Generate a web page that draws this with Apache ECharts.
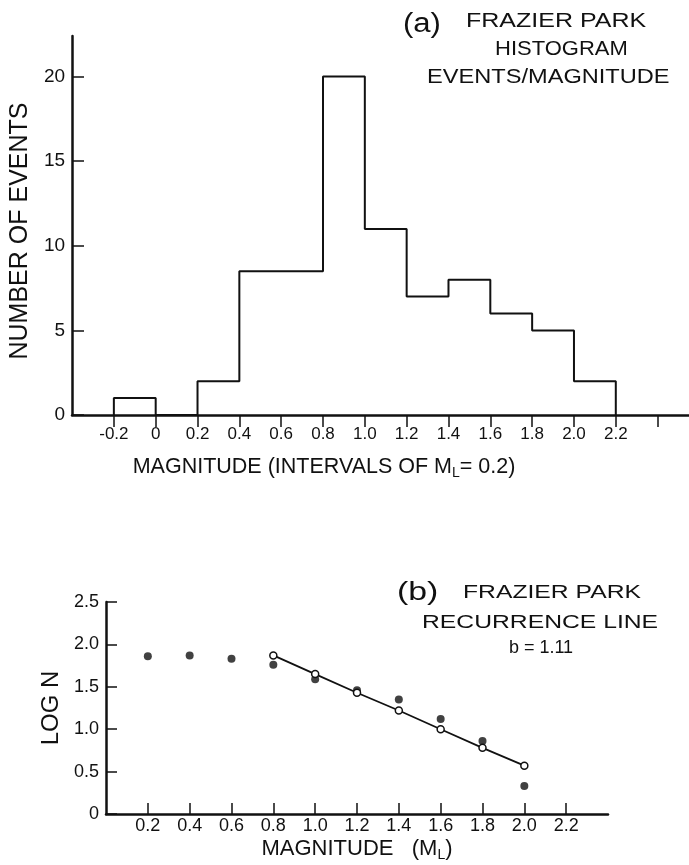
<!DOCTYPE html>
<html>
<head>
<meta charset="utf-8">
<script src="https://cdn.jsdelivr.net/npm/echarts@6/dist/echarts.min.js"></script>
<style>
html,body{margin:0;padding:0;background:#fff;}
#chart{width:689px;height:865px;}
</style>
</head>
<body>
<div id="chart"></div>
<script>
// ---- Data (a) histogram ----
const binEdges = [-0.2, 0, 0.2, 0.4, 0.6, 0.8, 1.0, 1.2, 1.4, 1.6, 1.8, 2.0, 2.2];
const eventCounts = [1, 0, 2, 8.5, 8.5, 20, 11, 7, 8, 6, 5, 2];
const histXTicks = [-0.2, 0, 0.2, 0.4, 0.6, 0.8, 1.0, 1.2, 1.4, 1.6, 1.8, 2.0, 2.2, 2.4];
const histXLabels = [-0.2, 0, 0.2, 0.4, 0.6, 0.8, 1.0, 1.2, 1.4, 1.6, 1.8, 2.0, 2.2];
const histYTicks = [0, 5, 10, 15, 20];

// ---- Data (b) recurrence ----
const magnitudes = [0.2, 0.4, 0.6, 0.8, 1.0, 1.2, 1.4, 1.6, 1.8, 2.0];
const logNObserved = [1.86, 1.87, 1.83, 1.76, 1.59, 1.46, 1.35, 1.12, 0.86, 0.33];
const fitMagnitudes = [0.8, 1.0, 1.2, 1.4, 1.6, 1.8, 2.0];
const logNFit = [1.87, 1.65, 1.43, 1.22, 1.00, 0.78, 0.57];
const recXTicks = [0.2, 0.4, 0.6, 0.8, 1.0, 1.2, 1.4, 1.6, 1.8, 2.0, 2.2];
const recYTicks = [0, 0.5, 1.0, 1.5, 2.0, 2.5];

// step outline built from bins
const histLine = [[binEdges[0], 0]];
eventCounts.forEach((c, i) => histLine.push([binEdges[i], c]));
histLine.push([binEdges[binEdges.length - 1], 0]);

const FONT = '"Liberation Sans", Arial, sans-serif';
const INK = '#111';
const fmt1 = v => (Math.abs(v) < 1e-9 ? '0' : v.toFixed(1));

const chart = echarts.init(document.getElementById('chart'), null, {renderer: 'canvas'});
chart.setOption({
  backgroundColor: '#fff',
  animation: false,
  textStyle: {fontFamily: FONT, color: INK},
  grid: [
    {left: 69, right: 0, top: 36, bottom: 450},
    {left: 106, right: 81, top: 602, bottom: 51}
  ],
  xAxis: [
    {
      gridIndex: 0, type: 'value', min: -0.4, max: 2.55,
      splitLine: {show: false},
      axisLine: {show: true, onZero: false, lineStyle: {color: INK, width: 2.5}},
      axisTick: {show: true, inside: false, length: 12, customValues: histXTicks, lineStyle: {color: INK, width: 1.5}},
      axisLabel: {customValues: histXLabels, formatter: fmt1, fontSize: 17, color: INK, margin: 11, fontFamily: FONT},
      name: '{a|MAGNITUDE (INTERVALS OF M}{s|L}{a|= 0.2)}',
      nameLocation: 'middle', nameGap: 40,
      nameTextStyle: {
        padding: [0, 113, 0, 0],
        rich: {
          a: {fontSize: 21.5, color: INK, fontFamily: FONT, lineHeight: 24},
          s: {fontSize: 14, color: INK, fontFamily: FONT, lineHeight: 24, padding: [12, 0, 0, 0]}
        }
      }
    },
    {
      gridIndex: 1, type: 'value', min: 0, max: 2.4,
      splitLine: {show: false},
      axisLine: {show: true, onZero: false, lineStyle: {color: INK, width: 2.5}},
      axisTick: {show: true, inside: true, length: 11, customValues: recXTicks, lineStyle: {color: INK, width: 1.5}},
      axisLabel: {customValues: recXTicks, formatter: fmt1, fontSize: 18, color: INK, margin: 3, fontFamily: FONT},
      name: '{a|MAGNITUDE   (M}{s|L}{a|)}',
      nameLocation: 'middle', nameGap: 22,
      nameTextStyle: {
        rich: {
          a: {fontSize: 22, color: INK, fontFamily: FONT, lineHeight: 24},
          s: {fontSize: 14, color: INK, fontFamily: FONT, lineHeight: 24, padding: [12, 0, 0, 0]}
        }
      }
    }
  ],
  yAxis: [
    {
      gridIndex: 0, type: 'value', min: 0, max: 22.4,
      splitLine: {show: false},
      axisLine: {show: true, onZero: false, lineStyle: {color: INK, width: 2.5}},
      axisTick: {show: true, inside: true, length: 12, customValues: histYTicks, lineStyle: {color: INK, width: 1.5}},
      axisLabel: {customValues: histYTicks, fontSize: 19, color: INK, margin: 7, fontFamily: FONT},
      name: 'NUMBER OF EVENTS',
      nameLocation: 'middle', nameGap: 36,
      nameTextStyle: {fontSize: 25, color: INK, fontFamily: FONT, padding: [0, 11, 0, 0]}
    },
    {
      gridIndex: 1, type: 'value', min: 0, max: 2.5,
      splitLine: {show: false},
      axisLine: {show: true, onZero: false, lineStyle: {color: INK, width: 2.5}},
      axisTick: {show: true, inside: true, length: 11, customValues: recYTicks, lineStyle: {color: INK, width: 1.5}},
      axisLabel: {customValues: recYTicks, formatter: fmt1, fontSize: 18, color: INK, margin: 7, fontFamily: FONT},
      name: 'LOG N',
      nameLocation: 'middle', nameGap: 42,
      nameTextStyle: {fontSize: 24, color: INK, fontFamily: FONT}
    }
  ],
  series: [
    {
      name: 'Events', type: 'line', xAxisIndex: 0, yAxisIndex: 0,
      step: 'end', symbol: 'none', data: histLine,
      lineStyle: {color: INK, width: 2}, z: 3
    },
    {
      name: 'Observed', type: 'scatter', xAxisIndex: 1, yAxisIndex: 1,
      symbol: 'circle', symbolSize: 8,
      data: magnitudes.map((m, i) => [m, logNObserved[i]]),
      itemStyle: {color: INK}, z: 3
    },
    {
      name: 'Recurrence line', type: 'line', xAxisIndex: 1, yAxisIndex: 1,
      symbol: 'circle', symbolSize: 7, showAllSymbol: true,
      data: fitMagnitudes.map((m, i) => [m, logNFit[i]]),
      lineStyle: {color: INK, width: 1.8},
      itemStyle: {color: '#fff', borderColor: INK, borderWidth: 1.5}, z: 4
    }
  ],
  graphic: [
    {type: 'text', x: 403, y: 25, scaleX: 1.15, style: {text: '(a)', font: '27px ' + FONT, fill: INK, textAlign: 'left', textVerticalAlign: 'middle'}},
    {type: 'text', x: 466, y: 21, scaleX: 1.25, style: {text: 'FRAZIER PARK', font: '20px ' + FONT, fill: INK, textAlign: 'left', textVerticalAlign: 'middle'}},
    {type: 'text', x: 495, y: 49, scaleX: 1.1, style: {text: 'HISTOGRAM', font: '20px ' + FONT, fill: INK, textAlign: 'left', textVerticalAlign: 'middle'}},
    {type: 'text', x: 427, y: 77, scaleX: 1.18, style: {text: 'EVENTS/MAGNITUDE', font: '20px ' + FONT, fill: INK, textAlign: 'left', textVerticalAlign: 'middle'}},
    {type: 'text', x: 397, y: 593, scaleX: 1.3, style: {text: '(b)', font: '26px ' + FONT, fill: INK, textAlign: 'left', textVerticalAlign: 'middle'}},
    {type: 'text', x: 463, y: 593, scaleX: 1.3, style: {text: 'FRAZIER PARK', font: '19px ' + FONT, fill: INK, textAlign: 'left', textVerticalAlign: 'middle'}},
    {type: 'text', x: 422, y: 623, scaleX: 1.3, style: {text: 'RECURRENCE LINE', font: '19px ' + FONT, fill: INK, textAlign: 'left', textVerticalAlign: 'middle'}},
    {type: 'text', x: 541, y: 648, style: {text: 'b = 1.11', font: '18px ' + FONT, fill: INK, textAlign: 'center', textVerticalAlign: 'middle'}}
  ]
});
</script>
</body>
</html>
